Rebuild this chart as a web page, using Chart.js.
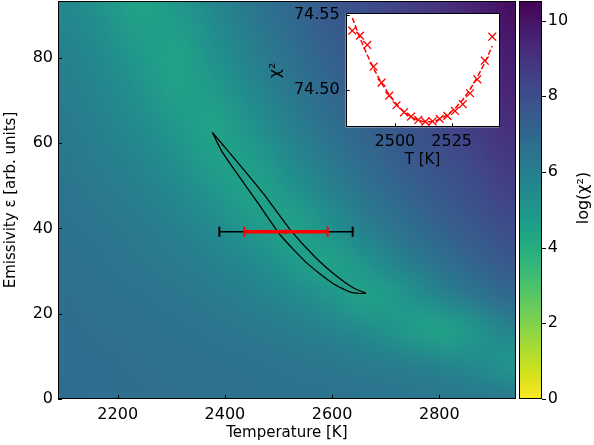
<!DOCTYPE html>
<html><head><meta charset="utf-8">
<script src="https://cdn.jsdelivr.net/npm/chart.js@4"></script>
<style>
html,body{margin:0;padding:0;background:#fff;}
#wrap{position:relative;width:594px;height:445px;}
#main{position:absolute;left:0;top:0;}
#insetBox{position:absolute;left:260px;top:0;width:260px;height:175px;}
</style></head><body>
<div id="wrap">
<canvas id="main" width="594" height="445"></canvas>
<div id="insetBox"><canvas id="inset" width="260" height="175"></canvas></div>
</div>
<script>
// ---------------- data ----------------
// heat-map grid: log(chi^2) at cell centres
const gridT = [2100, 2170, 2240, 2310, 2380, 2450, 2520, 2590, 2660, 2730, 2800, 2870, 2940];
const gridEps = [0, 8, 16, 24, 32, 40, 48, 56, 64, 72, 80, 88, 96];
// one row per gridEps value (bottom to top), one column per gridT value
const logChi2 = [
  [6.80,6.76,6.72,6.68,6.63,6.59,6.55,6.51,6.47,6.43,6.38,6.34,6.30],
  [6.77,6.73,6.68,6.63,6.57,6.52,6.45,6.35,6.24,6.08,5.84,5.50,4.95],
  [6.74,6.68,6.61,6.54,6.44,6.31,6.14,5.89,5.49,4.93,4.35,5.05,5.88],
  [6.69,6.62,6.52,6.39,6.23,5.98,5.62,5.08,4.45,4.90,5.75,6.40,7.02],
  [6.63,6.52,6.37,6.19,5.92,5.52,4.91,4.37,5.14,5.94,6.60,7.20,7.68],
  [6.55,6.40,6.21,5.94,5.54,4.93,4.37,5.11,5.94,6.60,7.20,7.68,8.15],
  [6.46,6.27,6.01,5.62,5.06,4.43,4.95,5.80,6.47,7.08,7.60,8.05,8.55],
  [6.35,6.11,5.77,5.26,4.58,4.66,5.52,6.24,6.89,7.44,7.90,8.39,8.90],
  [6.23,5.93,5.49,4.86,4.41,5.18,5.97,6.64,7.25,7.72,8.20,8.70,9.20],
  [6.10,5.73,5.18,4.50,4.76,5.63,6.32,6.97,7.50,7.96,8.45,8.95,9.52],
  [5.95,5.51,4.86,4.43,5.17,5.96,6.63,7.23,7.72,8.20,8.70,9.20,9.80],
  [5.79,5.26,4.55,4.70,5.50,6.24,6.87,7.44,7.91,8.40,8.90,9.45,10.07],
  [5.61,5.00,4.35,5.04,5.85,6.50,7.12,7.63,8.10,8.60,9.10,9.68,10.30]
];
// 1-sigma contour (closed path), temperature [K] and emissivity
const contourT = [2376.5,2394.6,2427.8,2461.8,2504.1,2554.1,2600.9,2635.3,2662.7,2639.0,2609.9,2567.2,2520.1,2476.7,2439.7,2402.1,2376.5];
const contourEps = [62.50,58.00,51.93,45.93,38.32,31.73,27.14,25.01,24.77,26.08,28.64,33.42,39.96,47.34,53.06,58.71,62.50];
// best fit and error bars
const bestT = [2514];
const bestEps = [39.2];
const errOuter = [124.4];
const errInner = [77.8];
// inset: chi^2 vs T
const insetT = [2481.2,2484.6,2487.8,2490.6,2494.1,2497.5,2500.7,2504.0,2507.1,2510.3,2513.4,2516.6,2519.7,2523.1,2526.5,2529.9,2533.1,2536.3,2539.6,2542.9];
const insetChi2 = [74.5395,74.5362,74.5300,74.5155,74.5049,74.4962,74.4898,74.4851,74.4822,74.4800,74.4789,74.4791,74.4807,74.4827,74.4860,74.4905,74.4978,74.5071,74.5195,74.5355];
const insetFit = [74.5480,74.5347,74.5233,74.5143,74.5045,74.4967,74.4905,74.4855,74.4821,74.4797,74.4787,74.4789,74.4804,74.4833,74.4877,74.4935,74.5003,74.5085,74.5181,74.5293];
// tick labels
const xTicks = [2200, 2400, 2600, 2800];
const yTicks = [0, 20, 40, 60, 80];
const cbTicks = [0, 2, 4, 6, 8, 10];
const insetXTicks = [2500, 2525];
const insetYTicks = [74.50, 74.55];

// ---------------- colour map (viridis, reversed by value) ----------------
const VIR = [[68,1,84],[72,26,108],[71,47,125],[65,68,135],[57,86,140],[49,104,142],[42,120,142],[35,136,142],[31,152,139],[34,168,132],[53,183,121],[84,197,104],[122,209,81],[165,219,54],[210,226,27],[253,231,37]];
const VMIN = 0, VMAX = 10.52;
function cmap(v){
  let t = 1 - (v - VMIN)/(VMAX - VMIN);
  t = Math.max(0, Math.min(1, t));
  const p = t*(VIR.length-1), i = Math.min(VIR.length-2, Math.floor(p)), f = p - i;
  const a = VIR[i], b = VIR[i+1];
  return [a[0]+(b[0]-a[0])*f, a[1]+(b[1]-a[1])*f, a[2]+(b[2]-a[2])*f];
}
const FONT = "'DejaVu Sans', sans-serif";
Chart.defaults.font.family = FONT;
Chart.defaults.color = '#000';

// offscreen image of the grid, smoothed when scaled (like imshow)
const off = document.createElement('canvas');
off.width = gridT.length; off.height = gridEps.length;
(function(){
  const c = off.getContext('2d');
  const img = c.createImageData(off.width, off.height);
  for (let r = 0; r < gridEps.length; r++) {
    for (let k = 0; k < gridT.length; k++) {
      const col = cmap(logChi2[r][k]);
      const row = gridEps.length - 1 - r;
      const idx = (row*off.width + k)*4;
      img.data[idx]=col[0]; img.data[idx+1]=col[1]; img.data[idx+2]=col[2]; img.data[idx+3]=255;
    }
  }
  c.putImageData(img,0,0);
})();

function inwardTicks(ctx, chart, xs, ys, xScale, yScale, len){
  const a = chart.chartArea;
  ctx.save(); ctx.strokeStyle = '#000'; ctx.lineWidth = 1; ctx.beginPath();
  xs.forEach(v=>{const p = Math.round(xScale.getPixelForValue(v))+0.5; ctx.moveTo(p,a.bottom); ctx.lineTo(p,a.bottom-len);});
  ys.forEach(v=>{const p = Math.round(yScale.getPixelForValue(v))+0.5; ctx.moveTo(a.left,p); ctx.lineTo(a.left+len,p);});
  ctx.stroke();
  ctx.strokeRect(Math.round(a.left)+0.5, Math.round(a.top)+0.5, Math.round(a.right-a.left)-1, Math.round(a.bottom-a.top)-1);
  ctx.restore();
}
function noPad(s){ s.paddingTop = 0; s.paddingBottom = 0; s.paddingLeft = 0; s.paddingRight = 0; }

const mainPlugin = {
  id: 'mainPlugin',
  beforeDatasetsDraw(chart){
    const ctx = chart.ctx, a = chart.chartArea, xs = chart.scales.x, ys = chart.scales.y;
    const dT = gridT[1]-gridT[0], dE = gridEps[1]-gridEps[0];
    const x0 = xs.getPixelForValue(gridT[0]-dT/2), x1 = xs.getPixelForValue(gridT[gridT.length-1]+dT/2);
    const y0 = ys.getPixelForValue(gridEps[gridEps.length-1]+dE/2), y1 = ys.getPixelForValue(gridEps[0]-dE/2);
    ctx.save();
    ctx.beginPath(); ctx.rect(a.left, a.top, a.right-a.left, a.bottom-a.top); ctx.clip();
    ctx.imageSmoothingEnabled = true; ctx.imageSmoothingQuality = 'high';
    ctx.drawImage(off, x0, y0, x1-x0, y1-y0);
    ctx.restore();
  },
  afterDatasetsDraw(chart){
    const ctx = chart.ctx, xs = chart.scales.x, ys = chart.scales.y;
    const yb = ys.getPixelForValue(bestEps[0]);
    const capH = 5;
    function bar(err, color, lw){
      const l = xs.getPixelForValue(bestT[0]-err), r = xs.getPixelForValue(bestT[0]+err);
      ctx.strokeStyle = color; ctx.lineWidth = lw; ctx.beginPath();
      ctx.moveTo(l, yb); ctx.lineTo(r, yb); ctx.stroke();
      ctx.lineWidth = 2; ctx.beginPath();
      ctx.moveTo(l, yb-capH); ctx.lineTo(l, yb+capH);
      ctx.moveTo(r, yb-capH); ctx.lineTo(r, yb+capH); ctx.stroke();
    }
    ctx.save();
    bar(errOuter[0], '#000', 1.5);
    bar(errInner[0], '#ff0000', 3.5);
    ctx.strokeStyle = '#ff0000'; ctx.lineWidth = 1; ctx.beginPath();
    ctx.arc(xs.getPixelForValue(bestT[0]), yb, 2, 0, Math.PI*2); ctx.stroke();
    ctx.restore();
  },
  afterDraw(chart){
    const ctx = chart.ctx, cb = chart.scales.yc;
    inwardTicks(ctx, chart, xTicks, yTicks, chart.scales.x, chart.scales.y, 4);
    const L = 519, R = 542;
    const top = cb.getPixelForValue(VMAX), bot = cb.getPixelForValue(VMIN);
    ctx.save();
    for (let py = Math.floor(top); py < Math.ceil(bot); py++) {
      const v = cb.getValueForPixel(py+0.5);
      const c = cmap(v);
      ctx.fillStyle = `rgb(${c[0]|0},${c[1]|0},${c[2]|0})`;
      ctx.fillRect(L, py, R-L, 1);
    }
    ctx.strokeStyle = '#000'; ctx.lineWidth = 1;
    ctx.strokeRect(L+0.5, Math.round(top)+0.5, R-L-1, Math.round(bot-top)-1);
    ctx.beginPath();
    cbTicks.forEach(v=>{const p = Math.round(cb.getPixelForValue(v))+0.5; ctx.moveTo(R, p); ctx.lineTo(R+4, p);});
    ctx.stroke();
    ctx.fillStyle = '#000'; ctx.font = "16px " + FONT;
    ctx.translate(584, 198); ctx.rotate(-Math.PI/2);
    ctx.textAlign = 'center'; ctx.textBaseline = 'middle';
    ctx.fillText('log(χ²)', 0, 0);
    ctx.restore();
  }
};

new Chart(document.getElementById('main'), {
  type: 'scatter',
  data: { datasets: [{
    data: contourT.map((t,i)=>({x:t, y:contourEps[i]})),
    showLine: true, borderColor: '#000', borderWidth: 1.3, pointRadius: 0, tension: 0.2, fill: false
  }]},
  options: {
    responsive: false, animation: false, events: [],
    layout: { padding: { top: 1, left: 0, right: 0, bottom: 0 } },
    plugins: { legend: { display: false }, tooltip: { enabled: false } },
    scales: {
      x: { type: 'linear', min: 2088.6, max: 2942.5,
        afterBuildTicks: s => { s.ticks = xTicks.map(v=>({value:v})); },
        afterFit: s => { s.height = 46; noPad(s); },
        grid: { display: false, drawTicks: false }, border: { display: false },
        ticks: { font: { size: 16 }, padding: 6, maxRotation: 0, callback: v => String(v) },
        title: { display: true, text: 'Temperature [K]', font: { size: 15 }, padding: { top: 0, bottom: 3 } } },
      y: { type: 'linear', min: 0, max: 93.3,
        afterBuildTicks: s => { s.ticks = yTicks.map(v=>({value:v})); },
        afterFit: s => { s.width = 58; noPad(s); },
        grid: { display: false, drawTicks: false }, border: { display: false },
        ticks: { font: { size: 16 }, padding: 5, callback: v => String(v) },
        title: { display: true, text: 'Emissivity ε [arb. units]', font: { size: 15 }, padding: { top: 2, bottom: 8 } } },
      yc: { type: 'linear', position: 'right', min: 0, max: 10.52,
        afterBuildTicks: s => { s.ticks = cbTicks.map(v=>({value:v})); },
        afterFit: s => { s.width = 594 - 515.7; noPad(s); },
        grid: { display: false, drawTicks: false }, border: { display: false },
        ticks: { font: { size: 16 }, padding: 32, callback: v => String(v) } }
    }
  },
  plugins: [mainPlugin]
});

// ---------------- inset ----------------
const insetPlugin = {
  id: 'insetPlugin',
  beforeDraw(chart){
    const a = chart.chartArea, ctx = chart.ctx;
    ctx.save(); ctx.fillStyle = '#fff'; ctx.fillRect(a.left, a.top, a.right-a.left, a.bottom-a.top); ctx.restore();
  },
  afterDraw(chart){
    inwardTicks(chart.ctx, chart, insetXTicks, insetYTicks, chart.scales.x, chart.scales.y, 4);
  }
};
new Chart(document.getElementById('inset'), {
  type: 'scatter',
  data: { datasets: [
    { data: insetT.map((t,i)=>({x:t, y:insetFit[i]})), showLine: true, borderColor: '#ff0000', borderWidth: 1.5, borderDash: [5.5, 2.4], pointRadius: 0, fill: false },
    { data: insetT.map((t,i)=>({x:t, y:insetChi2[i]})), showLine: false, pointStyle: 'crossRot', pointRadius: 5.5, borderColor: '#ff0000', backgroundColor: '#ff0000', pointBorderWidth: 1.3 }
  ]},
  options: {
    responsive: false, animation: false, events: [],
    layout: { padding: { top: 13.3, left: 0, right: 20.7, bottom: 0 } },
    plugins: { legend: { display: false }, tooltip: { enabled: false } },
    scales: {
      x: { type: 'linear', min: 2478.3, max: 2546,
        afterBuildTicks: s => { s.ticks = insetXTicks.map(v=>({value:v})); },
        afterFit: s => { s.height = 175 - 127.3; noPad(s); },
        grid: { display: false, drawTicks: false }, border: { display: false },
        ticks: { font: { size: 16 }, padding: 5, maxRotation: 0, callback: v => String(v) },
        title: { display: true, text: 'T [K]', font: { size: 15 }, padding: { top: 0, bottom: 6 } } },
      y: { type: 'linear', min: 74.4751, max: 74.5511,
        afterBuildTicks: s => { s.ticks = insetYTicks.map(v=>({value:v})); },
        afterFit: s => { s.width = 85.7; noPad(s); },
        grid: { display: false, drawTicks: false }, border: { display: false },
        ticks: { font: { size: 16 }, padding: 6, callback: v => v.toFixed(2) },
        title: { display: true, text: 'χ²', font: { size: 16 }, padding: { top: 6, bottom: 0 } } }
    }
  },
  plugins: [insetPlugin]
});
</script>
</body></html>
